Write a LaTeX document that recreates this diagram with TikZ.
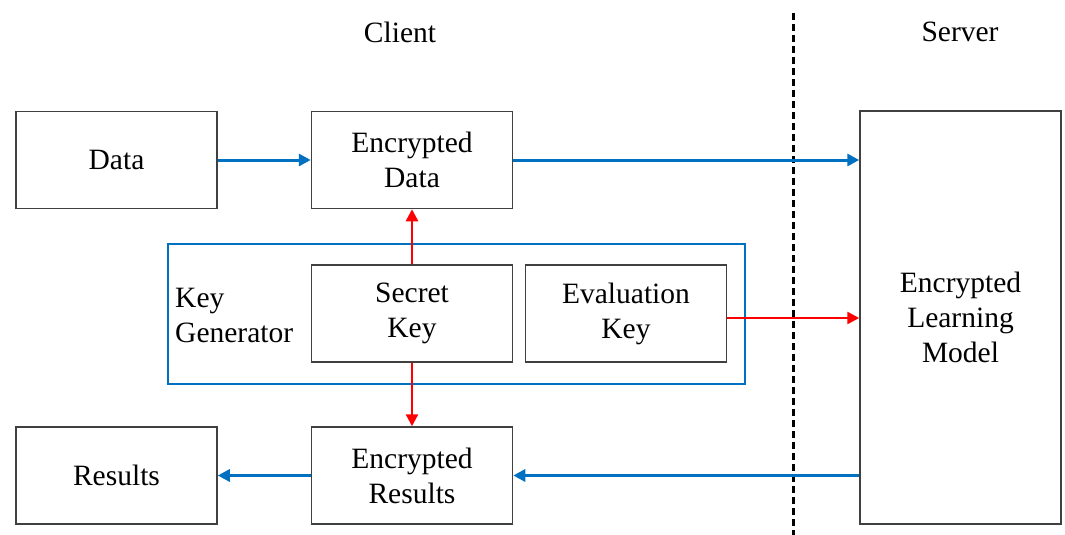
\documentclass[tikz,border=0pt]{standalone}
\usepackage{fontspec}
\setmainfont{Liberation Serif}
\usetikzlibrary{arrows.meta}
\definecolor{bl}{RGB}{0,112,192}
\definecolor{bx}{RGB}{64,64,64}
\begin{document}
\begin{tikzpicture}[x=1pt,y=-1pt,
  box/.style={draw=bx,line width=1.5pt,minimum width=201pt,align=center,inner sep=0pt,font=\fontsize{29.5}{35}\selectfont},
  lbl/.style={font=\fontsize{29.5}{35}\selectfont,inner sep=0pt,align=left},
  barrow/.style={draw=bl,line width=3pt,-{Triangle[length=12pt,width=12pt]}},
  rarrow/.style={draw=red,line width=2.5pt,-{Triangle[length=12pt,width=12pt]}}]
\useasboundingbox (0,0) rectangle (1065,535);
\fill[white] (0,0) rectangle (1065,535);
% nodes
\node[box,minimum height=97pt] (data) at (116.5,160) {Data};
\node[box,minimum height=97pt] (edata) at (412,160) {Encrypted\\Data};
\node[box,minimum height=97pt] (skey) at (412,313.5) {Secret\\Key};
\node[box,minimum height=97pt] (ekey) at (626,313.5) {Evaluation\\Key};
\node[box,minimum height=97pt] (res) at (116.5,475.5) {Results};
\node[box,minimum height=97pt] (eres) at (412,475.5) {Encrypted\\Results};
\node[box,minimum height=413pt] (srv) at (960.5,317.5) {Encrypted\\Learning\\Model};
\node[draw=bl,line width=1.3pt,minimum width=577pt,minimum height=140pt,inner sep=0pt] (kg) at (456.5,314) {};
\node[lbl,anchor=west] (kgl) at (175,315) {Key\\Generator};
\node[lbl] (client) at (400,32) {Client};
\node[lbl] (server) at (960,32) {Server};
% divider
\coordinate (dtop) at (793,13);
\coordinate (dbot) at (793,535);
\draw[line width=3pt,dash pattern=on 7pt off 4pt] (dtop) -- (dbot);
% connectors
\coordinate (ekout) at ([yshift=-4.5pt]ekey.east);
\draw[barrow] (data.east) -- (edata.west);
\draw[barrow] (edata.east) -- (srv.west |- edata.east);
\draw[rarrow] (skey.north) -- (edata.south);
\draw[rarrow] (skey.south) -- (eres.north);
\draw[rarrow] (ekout) -- (srv.west |- ekout);
\draw[barrow] (srv.west |- eres.east) -- (eres.east);
\draw[barrow] (eres.west) -- (res.east);
\end{tikzpicture}
\end{document}
